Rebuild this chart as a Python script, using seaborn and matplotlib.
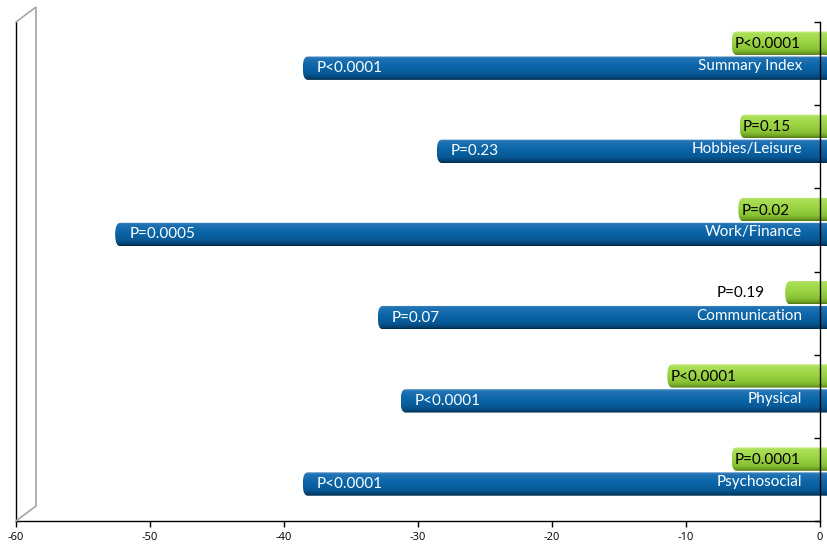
import numpy as np
import pandas as pd
import matplotlib
matplotlib.use("Agg")
import matplotlib.pyplot as plt
import seaborn as sns
from matplotlib.patches import FancyBboxPatch
from matplotlib.colors import to_rgb
from matplotlib.lines import Line2D

# ---- data -------------------------------------------------------------
categories = ["Summary Index", "Hobbies/Leisure", "Work/Finance",
              "Communication", "Physical", "Psychosocial"]
values_blue = [-38.6, -28.6, -52.6, -33.0, -31.3, -38.6]
values_green = [-6.6, -6.0, -6.1, -2.6, -11.4, -6.6]
p_blue = ["P<0.0001", "P=0.23", "P=0.0005", "P=0.07", "P<0.0001", "P<0.0001"]
p_green = ["P<0.0001", "P=0.15", "P=0.02", "P=0.19", "P<0.0001", "P=0.0001"]
x_ticks = [-60, -50, -40, -30, -20, -10, 0]

# ---- style ------------------------------------------------------------
sns.set_theme(style="white")
plt.rcParams["font.family"] = ["Lato", "DejaVu Sans"]

W, H = 827, 545
fig, ax = plt.subplots(figsize=(W / 100, H / 100), dpi=100)
fig.subplots_adjust(left=16 / W, right=820 / W, bottom=(H - 521) / H, top=(H - 22) / H)

df = pd.DataFrame({
    "category": categories * 2,
    "value": values_green + values_blue,
    "series": ["green"] * len(categories) + ["blue"] * len(categories),
})
sns.barplot(data=df, x="value", y="category", hue="series",
            hue_order=["green", "blue"], orient="h", width=0.6, gap=0.06,
            errorbar=None, legend=False, ax=ax,
            palette={"green": "#9ad241", "blue": "#0b64a7"})

XMIN, XMAX = -60, 0
YTOP, YBOT = -0.405, len(categories) - 0.405
ax.set_xlim(XMIN, XMAX)
ax.set_ylim(YBOT, YTOP)

ax_w_px = (820 - 16)
ax_h_px = (521 - 22)
x_per_px = (XMAX - XMIN) / ax_w_px
y_per_px = (YBOT - YTOP) / ax_h_px

# vertical colour profiles (top -> bottom) giving a cylinder look
profiles = {
    "blue": [(0.0, "#6a9fcc"), (0.07, "#2475b6"), (0.4, "#0c66a9"),
             (0.75, "#075996"), (0.92, "#04416f"), (1.0, "#022a4b")],
    "green": [(0.0, "#d6f29c"), (0.08, "#ace05a"), (0.45, "#9bd443"),
              (0.78, "#88c034"), (0.93, "#6b9c21"), (1.0, "#4c7412")],
}


def gradient(stops, n=96):
    pos = np.array([s[0] for s in stops])
    cols = np.array([to_rgb(s[1]) for s in stops])
    t = np.linspace(0, 1, n)
    rgb = np.stack([np.interp(t, pos, cols[:, k]) for k in range(3)], axis=1)
    return rgb[:, None, :]


def draw_cylinder(bar, kind, extend=1.2):
    bb = bar.get_bbox()
    left = min(bb.x0, bb.x1)
    right = max(bb.x0, bb.x1) + extend
    y0 = min(bb.y0, bb.y1)
    h = abs(bb.y1 - bb.y0)
    bar.set_visible(False)
    rx = 5 * x_per_px
    ry = h / 2
    shape = FancyBboxPatch((left, y0), right - left, h,
                           boxstyle=f"round,pad=0,rounding_size={rx}",
                           mutation_aspect=ry / rx,
                           fc="none", ec="none", clip_on=False, zorder=2)
    ax.add_patch(shape)
    im = ax.imshow(gradient(profiles[kind]), extent=[left, right, y0 + h, y0],
                   origin="upper", aspect="auto", interpolation="bilinear",
                   zorder=2)
    im.set_clip_box(fig.bbox)
    im.set_clip_path(shape)


for kind, cont in zip(["green", "blue"], ax.containers):
    for bar in cont:
        draw_cylinder(bar, kind)

ax.set_xlim(XMIN, XMAX)
ax.set_ylim(YBOT, YTOP)

# ---- labels on bars ---------------------------------------------------
green_bars = list(ax.containers[0])
blue_bars = list(ax.containers[1])
fs = 11
for i, cat in enumerate(categories):
    bb = blue_bars[i].get_bbox()
    yc = (bb.y0 + bb.y1) / 2
    ax.annotate(cat, xy=(0, yc), xytext=(-18, 2), textcoords="offset pixels",
                ha="right", va="center", color="white", fontsize=fs, zorder=4)
    ax.annotate(p_blue[i], xy=(values_blue[i], yc), xytext=(14, 0),
                textcoords="offset pixels", ha="left", va="center",
                color="white", fontsize=fs, zorder=4)
    gb = green_bars[i].get_bbox()
    gyc = (gb.y0 + gb.y1) / 2
    if values_green[i] > -5:
        ax.annotate(p_green[i], xy=(values_green[i], gyc), xytext=(-20, 0),
                    textcoords="offset pixels", ha="right", va="center",
                    color="black", fontsize=fs, zorder=4)
    else:
        ax.annotate(p_green[i], xy=(values_green[i], gyc), xytext=(3, -1),
                    textcoords="offset pixels", ha="left", va="center",
                    color="black", fontsize=fs, zorder=4)

# ---- axes -------------------------------------------------------------
ax.set_xlabel("")
ax.set_ylabel("")
ax.set_xticks(x_ticks)
ax.set_xticklabels([str(t) for t in x_ticks], fontfamily=["Open Sans", "DejaVu Sans"])
ax.tick_params(axis="x", bottom=True, direction="out", length=4, width=1,
               color="black", labelsize=8, labelcolor="black", pad=4)
ax.yaxis.tick_right()
ax.set_yticks(np.arange(len(categories) + 1) + YTOP)
ax.set_yticklabels([])
ax.tick_params(axis="y", right=True, left=False, direction="in", length=4,
               width=1, color="black")
for side in ["left", "bottom", "right"]:
    ax.spines[side].set_visible(True)
    ax.spines[side].set_color("black")
    ax.spines[side].set_linewidth(1.0)
    ax.spines[side].set_zorder(5)
ax.spines["top"].set_visible(False)
ax.grid(False)

# ---- back wall outline (3-D depth) ------------------------------------
fig.canvas.draw()
ax_tl = ax.transData.transform((XMIN, YTOP))
ax_bl = ax.transData.transform((XMIN, YBOT))
dx, dy = 20, 15
xs = [ax_tl[0], ax_tl[0] + dx, ax_bl[0] + dx, ax_bl[0]]
ys = [ax_tl[1], ax_tl[1] + dy, ax_bl[1] + dy, ax_bl[1]]
fig.add_artist(Line2D(xs, ys, transform=None, color="#a6a6a6", lw=1.2,
                      solid_joinstyle="miter"))

fig.savefig("out.png", dpi=100)
